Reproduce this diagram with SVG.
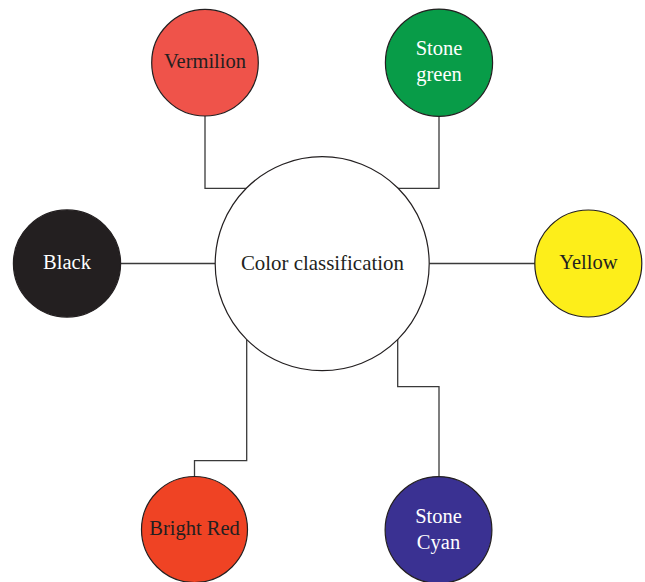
<svg xmlns="http://www.w3.org/2000/svg" width="645" height="582" viewBox="0 0 645 582">
  <style>
    .node { stroke: #231f20; stroke-width: 1.2; }
    .link { fill: none; stroke: #3a3a3a; stroke-width: 1.3; }
    .lbl { font-family: "Liberation Serif", "Times New Roman", serif; font-size: 20.5px; text-anchor: middle; }
    .dark { fill: #231f20; }
    .light { fill: #ffffff; }
  </style>
  <rect width="645" height="582" fill="#ffffff"/>

  <!-- connectors from the hub to each colour -->
  <g id="connectors">
    <path class="link" d="M205,116 V188.3 H246.5"/>
    <path class="link" d="M439,116 V188.3 H398"/>
    <path class="link" d="M120.5,263.5 H215.2"/>
    <path class="link" d="M429.2,263.5 H535"/>
    <path class="link" d="M246.7,339.5 V460.7 H194.5 V476"/>
    <path class="link" d="M397.7,338.5 V386.7 H439 V476.5"/>
  </g>

  <g id="hub">
    <circle class="node" cx="322.2" cy="263.7" r="107" fill="#ffffff"/>
    <text class="lbl dark" x="322.4" y="269.5" style="font-size:20.9px">Color classification</text>
  </g>

  <g id="vermilion">
    <circle class="node" cx="205" cy="62.7" r="53.3" fill="#ef534a"/>
    <text class="lbl dark" x="205" y="68.3">Vermilion</text>
  </g>

  <g id="stone-green">
    <circle class="node" cx="439" cy="62.7" r="53.6" fill="#089c48"/>
    <text class="lbl light" x="439" y="55">Stone</text>
    <text class="lbl light" x="439" y="80.5">green</text>
  </g>

  <g id="black">
    <circle class="node" cx="67" cy="263.5" r="53.6" fill="#231f20"/>
    <text class="lbl light" x="67" y="268.5">Black</text>
  </g>

  <g id="yellow">
    <circle class="node" cx="588.3" cy="263.5" r="53.5" fill="#fdee1a"/>
    <text class="lbl dark" x="588.3" y="268.5">Yellow</text>
  </g>

  <g id="bright-red">
    <circle class="node" cx="194.5" cy="529.5" r="53" fill="#ef4324"/>
    <text class="lbl dark" x="194.5" y="534.5">Bright Red</text>
  </g>

  <g id="stone-cyan">
    <circle class="node" cx="438.5" cy="530" r="53.4" fill="#3a3192"/>
    <text class="lbl light" x="438.5" y="522.7">Stone</text>
    <text class="lbl light" x="438.5" y="548.5">Cyan</text>
  </g>
</svg>
